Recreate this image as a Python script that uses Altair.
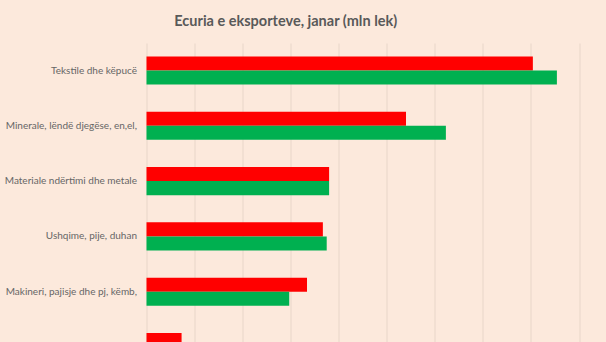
import altair as alt
import pandas as pd

categories = [
    "Tekstile dhe këpucë",
    "Minerale, lëndë djegëse, en,el,",
    "Materiale ndërtimi dhe metale",
    "Ushqime, pije, duhan",
    "Makineri, pajisje dhe pj, këmb,",
    "Dru dhe letër",
]
series = ["Janar 2015", "Janar 2016"]
values_red = [8040, 5400, 3800, 3670, 3340, 730]
values_green = [8540, 6230, 3800, 3750, 2970, 700]
colors = ["#FF0000", "#00B050"]

rows = []
for c, r, g in zip(categories, values_red, values_green):
    rows.append({"kategoria": c, "seria": series[0], "vlera": r})
    rows.append({"kategoria": c, "seria": series[1], "vlera": g})
df = pd.DataFrame(rows)

FONT = "Lato"

chart = (
    alt.Chart(df)
    .mark_bar()
    .encode(
        y=alt.Y(
            "kategoria:N",
            sort=categories,
            title=None,
            scale=alt.Scale(paddingInner=0.493, paddingOuter=0.246),
            axis=alt.Axis(
                domain=False,
                ticks=False,
                labelPadding=10,
                labelFont=FONT,
                labelFontSize=10,
                labelColor="#666666",
                labelLimit=200,
            ),
        ),
        yOffset=alt.YOffset("seria:N", sort=series, scale=alt.Scale(paddingInner=0, paddingOuter=0)),
        x=alt.X(
            "vlera:Q",
            title=None,
            scale=alt.Scale(domain=[0, 9000], nice=False),
            axis=alt.Axis(
                values=list(range(0, 9001, 1000)),
                grid=True,
                gridColor="#E8D6C9",
                gridWidth=1,
                labels=False,
                ticks=False,
                domain=False,
            ),
        ),
        color=alt.Color(
            "seria:N",
            scale=alt.Scale(domain=series, range=colors),
            legend=None,
        ),
    )
    .properties(
        width=432.5,
        height=331.5,
        autosize=alt.AutoSizeParams(type="none"),
        padding={"left": 146.5, "top": 43, "right": 27, "bottom": 0},
        background="#FCE9DC",
        title=alt.TitleParams(
            "Ecuria e eksporteve, janar (mln lek)",
            font=FONT,
            fontSize=14.5,
            fontWeight="bold",
            color="#595959",
            anchor="middle",
            dx=-77,
            offset=14,
        ),
    )
    .configure_view(stroke=None)
)

chart.save("out.html", embed_options={"renderer": "svg", "actions": False})
